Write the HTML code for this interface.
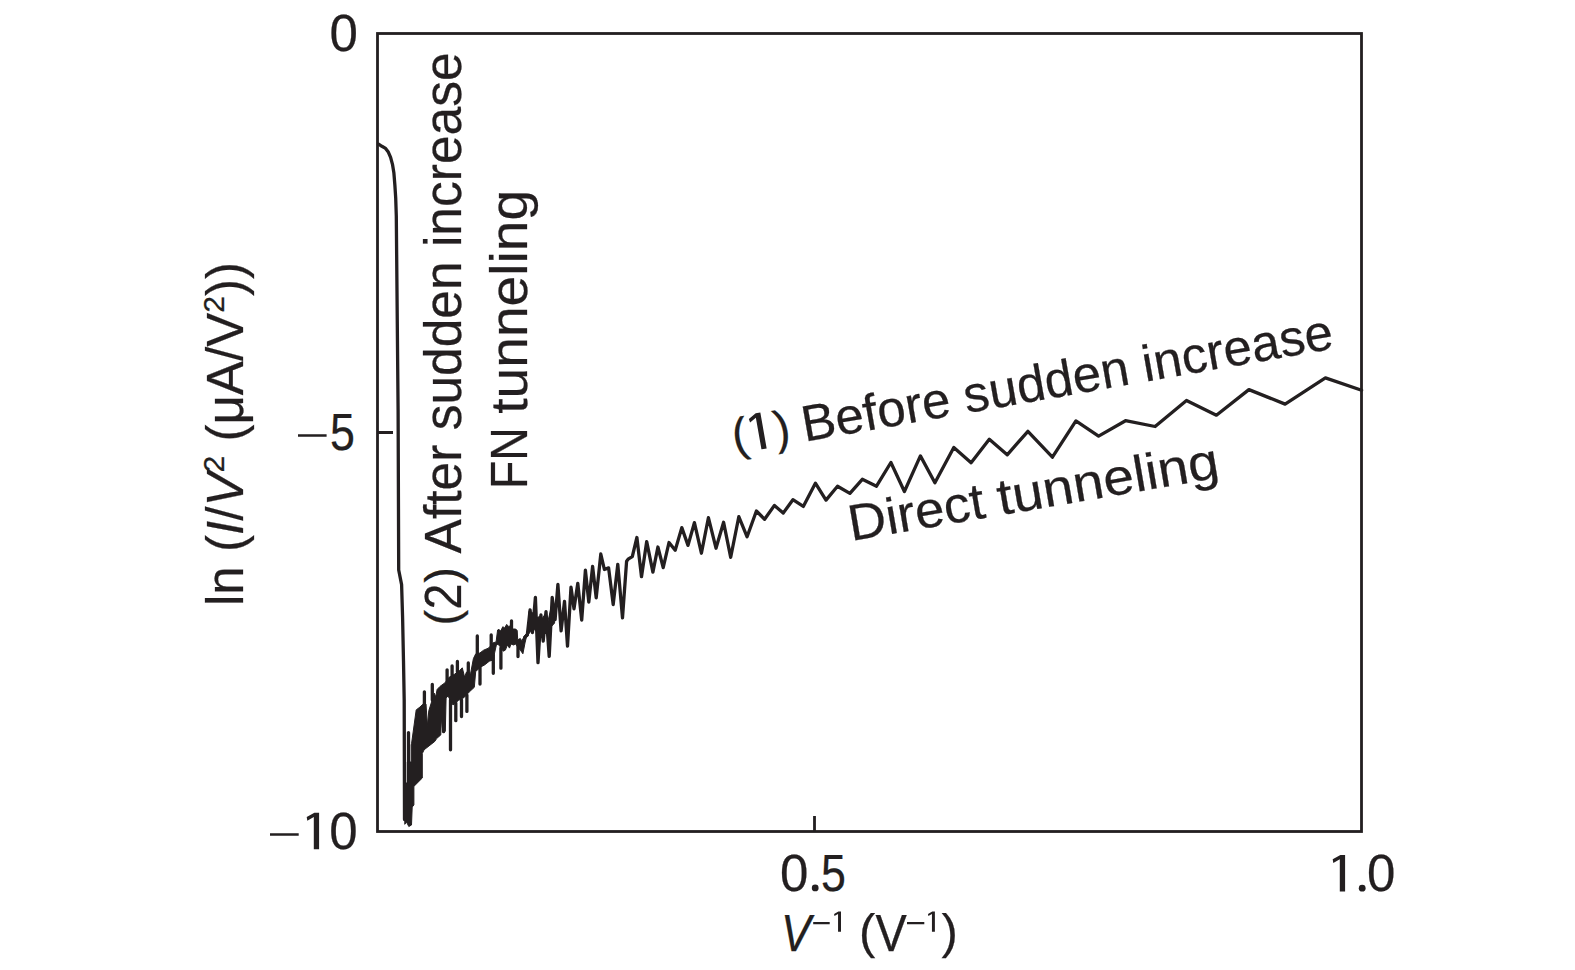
<!DOCTYPE html>
<html><head><meta charset="utf-8"><style>
html,body{margin:0;padding:0;background:#fff;width:1575px;height:970px;overflow:hidden}
svg{display:block}
g.t path,g.t circle{fill:#231f20;stroke:none}
text{font-family:"Liberation Sans",sans-serif;fill:#231f20;stroke:#231f20;stroke-width:0.25}
</style></head><body>
<svg width="1575" height="970" viewBox="0 0 1575 970">
<g fill="none" stroke="#231f20" stroke-width="2.8">
<rect x="377.5" y="33.5" width="984" height="798"/>
<path d="M377.5 432.5H393M814.5 816V831.5"/>
<path d="M298 435.5H326.6M270 834.5H298.7" stroke-width="2.7"/>
<path d="M813.2 923.2H829.7M907 923.2H924.3" stroke-width="2.2"/>
</g>
<g class="t" font-size="51">
<text x="329.5" y="51">0</text>
<text x="330" y="450" textLength="24.9" lengthAdjust="spacingAndGlyphs">5</text>
<text x="329.2" y="849">0</text>
<path transform="translate(306.7,849.3)" d="M7.7 -36.5H12.4V0H7.1V-32.2L0.6 -28.5L0 -32.2Z"/>
<text x="780" y="891">0</text><circle cx="815.2" cy="887.9" r="3.4"/><text x="821.1" y="891" textLength="24.9" lengthAdjust="spacingAndGlyphs">5</text>
<circle cx="1362.2" cy="888.2" r="3.4"/><text x="1367" y="891">0</text>
<path transform="translate(1332.7,891.4)" d="M7.7 -36.5H12.4V0H7.1V-32.2L0.6 -28.5L0 -32.2Z"/>
<text x="781" y="951" font-style="italic" textLength="30" lengthAdjust="spacingAndGlyphs">V</text>
<path transform="translate(834.1,931.8) scale(0.556)" d="M7.7 -36.5H12.4V0H7.1V-32.2L0.6 -28.5L0 -32.2Z"/>
<text x="859" y="948" font-size="49">(</text>
<text x="875.4" y="951" textLength="31.3" lengthAdjust="spacingAndGlyphs">V</text>
<path transform="translate(928,931.8) scale(0.556)" d="M7.7 -36.5H12.4V0H7.1V-32.2L0.6 -28.5L0 -32.2Z"/>
<text x="941.5" y="948" font-size="49">)</text>
<text transform="translate(243,606) rotate(-90)" textLength="344" lengthAdjust="spacingAndGlyphs">ln (<tspan font-style="italic">I</tspan>/<tspan font-style="italic">V</tspan><tspan font-size="30" dy="-19">2</tspan><tspan dy="19"> (μA/V</tspan><tspan font-size="30" dy="-19">2</tspan><tspan dy="19">))</tspan></text>
<g transform="translate(461,626) rotate(-90)">
<text x="0.4" y="-3.5" font-size="47">(</text>
<text x="16.6" y="0" textLength="25.9" lengthAdjust="spacingAndGlyphs">2</text>
<text x="43.2" y="-3.5" font-size="47">)</text>
<text x="72.6" y="0" textLength="501" lengthAdjust="spacingAndGlyphs">After sudden increase</text>
</g>
<g transform="translate(527,490) rotate(-90)">
<text x="0.9" y="0" textLength="61.75" lengthAdjust="spacingAndGlyphs">FN</text>
<text x="76.2" y="0" textLength="224" lengthAdjust="spacingAndGlyphs">tunneling</text>
</g>
<g transform="translate(735.35,453.97) rotate(-10)">
<text x="-0.3" y="-2" font-size="47">(</text><path transform="translate(19.4,0)" d="M7.7 -36.5H12.4V0H7.1V-32.2L0.6 -28.5L0 -32.2Z"/><text x="42.4" y="-2" font-size="47">)</text>
<text x="70.4" y="0">Before sudden increase</text>
</g>
<g transform="translate(851.8,540.8) rotate(-9.75)">
<text x="-0.5" y="0" textLength="137.6" lengthAdjust="spacingAndGlyphs">Direct</text>
<text x="150.5" y="0" textLength="224" lengthAdjust="spacingAndGlyphs">tunneling</text>
</g>
</g>
<g fill="none" stroke="#231f20" stroke-width="3.3" stroke-linejoin="round" stroke-linecap="round">
<path d="M378.6 144.2 381.9 146.3 385.6 148.4 388.1 151.7 390.6 157.4 392.6 164.9 393.9 173.1 394.9 185.5 395.7 197.9 396.3 216.0 398.1 410.0 398.7 570.0 401.6 584.6 402.6 617.8 403.5 661.0 404.2 700.0 404.5 819.5"/>
<path d="M525.0 637.1 527.3 634.9 530.1 609.9 532.4 632.6 535.4 597.4 538.0 662.7 540.9 615.0 543.2 641.1 546.0 611.6 549.2 656.4 552.2 597.4 555.1 619.6 557.9 584.4 561.1 630.9 564.5 601.4 567.5 646.2 571.0 587.2 574.0 608.8 577.8 583.3 581.7 620.1 585.4 570.2 588.8 602.0 592.6 566.4 596.2 597.8 600.8 554.0 604.4 569.5 608.6 567.9 613.2 604.5 617.8 564.3 622.5 617.9 626.6 561.2 628.1 559.2 632.3 556.6 636.9 537.5 641.5 576.7 646.7 541.6 652.9 572.1 657.9 547.0 663.2 567.6 669.0 542.5 675.2 550.3 681.8 527.6 688.0 545.4 694.4 522.7 701.4 553.2 708.4 517.7 716.0 548.2 723.6 522.3 730.7 557.3 738.8 516.7 747.1 536.8 756.4 511.0 764.6 519.3 774.4 505.4 783.2 513.1 792.9 499.7 803.3 506.4 815.4 483.2 826.0 500.1 837.5 486.2 849.9 493.4 862.3 479.3 876.5 486.2 890.9 462.5 904.4 491.5 920.4 455.9 934.9 482.7 953.8 447.5 971.1 462.7 989.3 439.2 1007.2 454.8 1027.9 431.3 1052.4 457.2 1075.9 420.9 1098.6 436.1 1125.5 420.7 1155.1 426.5 1186.5 400.4 1216.4 415.2 1248.9 389.6 1285.1 404.1 1325.4 377.9 1361.6 390.3"/>
<path d="M408.5 783.0L408.5 732.6M424.4 706.0L424.4 691.8M432.3 700.0L432.3 684.4M447.1 684.0L447.1 669.8M452.1 676.0L452.1 666.0M457.4 672.0L457.4 661.5M468.3 675.0L468.3 663.0M477.3 655.0L477.3 636.0M491.2 646.0L491.2 635.0M511.5 628.0L511.5 621.0M443.6 712.0L443.6 731.7M450.5 700.0L450.5 749.8M455.8 703.0L455.8 720.7M461.5 700.0L461.5 716.5M466.9 695.0L466.9 711.4M480.0 667.0L480.0 684.0M493.3 655.0L493.3 673.3M500.9 648.0L500.9 668.2M518.0 645.0L518.0 656.6"/>
<path d="M528.2 634.5 528.9 611.4 533.2 613.1 536.0 618.0 539.8 616.4 542.0 619.0 544.7 614.7 548.0 621.0 551.3 606.5 554.6 619.7 554.6 623.0 551.0 627.0 548.0 632.9 544.7 633.7 542.3 638.0 539.8 636.2 536.0 631.0 533.2 628.8 530.7 631.2Z M405.0 783.0 407.3 783.0 407.3 762.0 411.2 762.0 411.2 745.0 411.6 743.3 416.2 709.9 419.9 707.1 422.7 704.3 426.0 704.0 427.4 725.7 428.8 710.8 430.6 705.0 434.3 693.2 435.7 696.9 437.1 689.5 440.0 686.4 445.1 682.7 449.3 677.1 454.4 674.3 459.5 670.6 462.3 667.8 464.6 677.1 466.5 672.0 470.6 673.4 473.4 658.6 475.7 653.9 479.9 653.0 483.6 650.2 488.3 648.2 491.4 645.0 493.0 642.9 496.1 641.9 497.6 630.0 498.9 629.3 500.7 631.1 502.8 626.7 504.6 628.0 506.7 624.4 508.5 626.4 510.0 626.0 513.6 629.0 515.7 629.0 517.2 630.6 517.7 639.8 520.3 638.5 521.9 640.9 524.4 635.7 526.5 633.6 528.2 634.0 L528.2 636.0 526.5 636.7 525.0 642.9 522.9 653.8 520.3 650.1 518.3 648.0 515.7 644.0 513.6 645.0 511.0 644.0 509.5 648.1 507.4 645.0 505.4 650.1 503.3 651.2 499.0 645.0 496.6 644.0 493.0 660.0 489.3 661.2 484.5 665.0 480.8 666.9 475.7 671.5 474.3 687.3 469.2 692.0 464.1 697.5 458.6 700.3 453.0 705.0 448.0 696.0 446.1 698.0 445.3 731.3 442.6 729.5 441.3 718.2 440.8 734.9 436.6 738.6 434.8 741.4 424.1 749.8 422.3 753.5 422.3 778.0 413.9 786.4 413.9 805.0 412.2 807.0 411.5 825.0 408.8 826.5 406.5 822.0 405.0 824.0Z" fill="#231f20" stroke-width="1"/>
</g>
</svg>
</body></html>
